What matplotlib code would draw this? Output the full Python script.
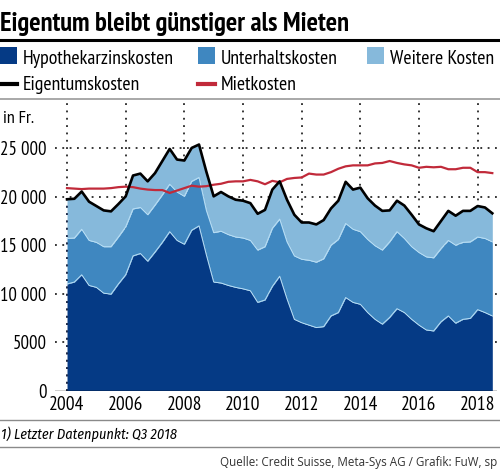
import matplotlib
matplotlib.use("Agg")
import matplotlib.pyplot as plt
from matplotlib.patches import Rectangle
from matplotlib.lines import Line2D
import numpy as np

# quarterly values, Q1 2004 .. Q3 2018, in Fr.
hypothek = [11000, 11200, 11950, 10850, 10650, 10050, 9950, 11000, 11950, 13900,
            14150, 13350, 14300, 15300, 16400, 15500, 15100, 16550, 17000, 14000,
            11200, 11100, 10850, 10650, 10500, 10300, 9100, 9350, 10750, 11800,
            9450, 7350, 7000, 6750, 6500, 6600, 7700, 8050, 9600, 9100,
            8900, 8050, 7350, 6850, 7550, 8450, 8050, 7350, 6750, 6250,
            6150, 7100, 7700, 6950, 7350, 7450, 8350, 8050, 7700]
unterhalt = [4700, 4550, 4700, 4650, 4650, 4800, 4900, 4850, 4950, 4850,
             4750, 4800, 4850, 4900, 4900, 5000, 4950, 5050, 5000, 4600,
             5100, 5350, 5250, 5200, 5250, 5200, 5400, 5500, 6000, 5900,
             5900, 6550, 6550, 6700, 6750, 7000, 7300, 7550, 7650, 7550,
             7500, 7550, 7600, 7650, 7800, 7950, 7650, 7500, 7500, 7550,
             7550, 7550, 7800, 8050, 7950, 7900, 7500, 7650, 7650]
weitere = [4050, 4050, 3900, 4000, 3750, 3750, 3650, 3400, 3150, 3450,
           3500, 3450, 3300, 3500, 3650, 3350, 3700, 3450, 3400, 4000,
           3750, 4050, 3950, 3850, 3850, 3850, 3750, 3800, 4000, 3900,
           4350, 4250, 3800, 3900, 3900, 4000, 3800, 4000, 4300, 4100,
           4550, 4250, 4150, 4050, 3250, 3200, 3400, 3300, 2900, 2950,
           2750, 2850, 3050, 3050, 3250, 3200, 3200, 3200, 2950]
mietkosten = [20900, 20850, 20800, 20850, 20850, 20850, 20900, 21000, 21050, 21000,
              20850, 20750, 20700, 20700, 20400, 20650, 20900, 21150, 21050, 21100,
              21250, 21350, 21550, 21600, 21600, 21750, 21600, 21300, 21650, 21500,
              21850, 21950, 22000, 22400, 22300, 22300, 22550, 22900, 23150, 23250,
              23250, 23250, 23450, 23500, 23700, 23500, 23350, 23250, 23000, 23100,
              23050, 23100, 22850, 22850, 23000, 23000, 22550, 22550, 22450]
start_year = 2004
year_ticks = [2004, 2006, 2008, 2010, 2012, 2014, 2016, 2018]
y_ticks = [0, 5000, 10000, 15000, 20000, 25000]
y_labels = ['0', '5000', '10 000', '15 000', '20 000', '25 000']

plt.rcParams['font.family'] = ['PT Sans Narrow', 'Fira Sans Condensed',
                               'Liberation Sans Narrow', 'DejaVu Sans']

c_dark = '#053a85'
c_mid = '#3f87c0'
c_light = '#86b9db'
c_edge = '#b9e0f7'
c_red = '#c12a3a'

x = start_year + np.arange(len(hypothek)) * 0.25
h = np.array(hypothek)
hu = h + np.array(unterhalt)
total = hu + np.array(weitere)

fig = plt.figure(figsize=(5, 4.7), dpi=100)
ax = fig.add_axes([0.11, 1 - 390.5 / 470, 0.884, 290.5 / 470])

ax.fill_between(x, 0, h, color=c_dark, lw=0, zorder=2)
ax.fill_between(x, h, hu, color=c_mid, lw=0, zorder=2)
ax.fill_between(x, hu, total, color=c_light, lw=0, zorder=2)
ax.plot(x, h, color=c_edge, lw=0.7, zorder=3)
ax.plot(x, hu, color=c_edge, lw=0.7, zorder=3)
ax.plot(x, mietkosten, color=c_red, lw=1.6, zorder=4)
ax.plot(x, total, color='black', lw=1.9, zorder=5)

# dotted grid, lying under the areas
dots = (0, (1.2, 3.6))
for yt in y_ticks[1:]:
    ax.axhline(yt, color='black', lw=1.1, ls=dots, zorder=1)
for xt in year_ticks:
    ax.axvline(xt, color='black', lw=1.1, ls=dots, zorder=1)
ax.plot([start_year, start_year], [0, total[0]], color='#1a2a50', lw=1.1, ls=dots, zorder=3)
ax.axhline(0, color='black', lw=1.0, zorder=6)

ax.set_xlim(2003.59, 2018.66)
ax.set_ylim(0, 30000)
ax.set_xticks(year_ticks)
ax.set_yticks(y_ticks)
ax.set_yticklabels(y_labels)
ax.tick_params(axis='both', length=0, labelsize=14)
ax.tick_params(axis='y', pad=6, labelsize=13.5)
ax.tick_params(axis='x', pad=4)
for s in ax.spines.values():
    s.set_visible(False)


def fy(py):
    return 1 - py / 470


def fx(px):
    return px / 500


fig.text(0.0, fy(31), 'Eigentum bleibt günstiger als Mieten', fontsize=19.2,
         fontweight='bold', va='baseline', ha='left')
fig.add_artist(Line2D([0, 1], [fy(40), fy(40)], color='black', lw=2.2))
fig.add_artist(Line2D([0, 1], [fy(99), fy(99)], color='#9a9a9a', lw=1.2))

# legend, placed by hand
legend_items = [
    ('patch', c_dark, 'Hypothekarzinskosten', 0, 64),
    ('patch', c_mid, 'Unterhaltskosten', 198, 64),
    ('patch', c_light, 'Weitere Kosten', 367, 64),
    ('line', 'black', 'Eigentumskosten', 0, 90),
    ('line', c_red, 'Mietkosten', 198, 90),
]
for kind, col, label, px, base in legend_items:
    if kind == 'patch':
        fig.add_artist(Rectangle((fx(px), fy(base)), fx(17), 17 / 470,
                                 color=col, lw=0))
    else:
        yy = fy(base - 6)
        fig.add_artist(Line2D([fx(px), fx(px + 17)], [yy, yy], color=col, lw=3.0))
    fig.text(fx(px + 23), fy(base), label, fontsize=14.3, va='baseline', ha='left')

fig.text(fx(3), fy(123), 'in Fr.', fontsize=13, va='baseline', ha='left')

fig.add_artist(Line2D([0, 1], [fy(420), fy(420)], color='#8a8a8a', lw=1.0))
fig.text(fx(1), fy(439), '1) Letzter Datenpunkt: Q3 2018', fontsize=10.3,
         style='italic', family=['Fira Sans Condensed', 'Roboto Condensed', 'DejaVu Sans'],
         va='baseline', ha='left')
fig.add_artist(Line2D([0, 1], [fy(447), fy(447)], color='#8a8a8a', lw=1.0))
fig.text(fx(497), fy(466), 'Quelle: Credit Suisse, Meta-Sys AG / Grafik: FuW, sp',
         fontsize=8.4, family=['Open Sans', 'DejaVu Sans'], color='#333333',
         va='baseline', ha='right')

fig.savefig('out.png', dpi=100)
